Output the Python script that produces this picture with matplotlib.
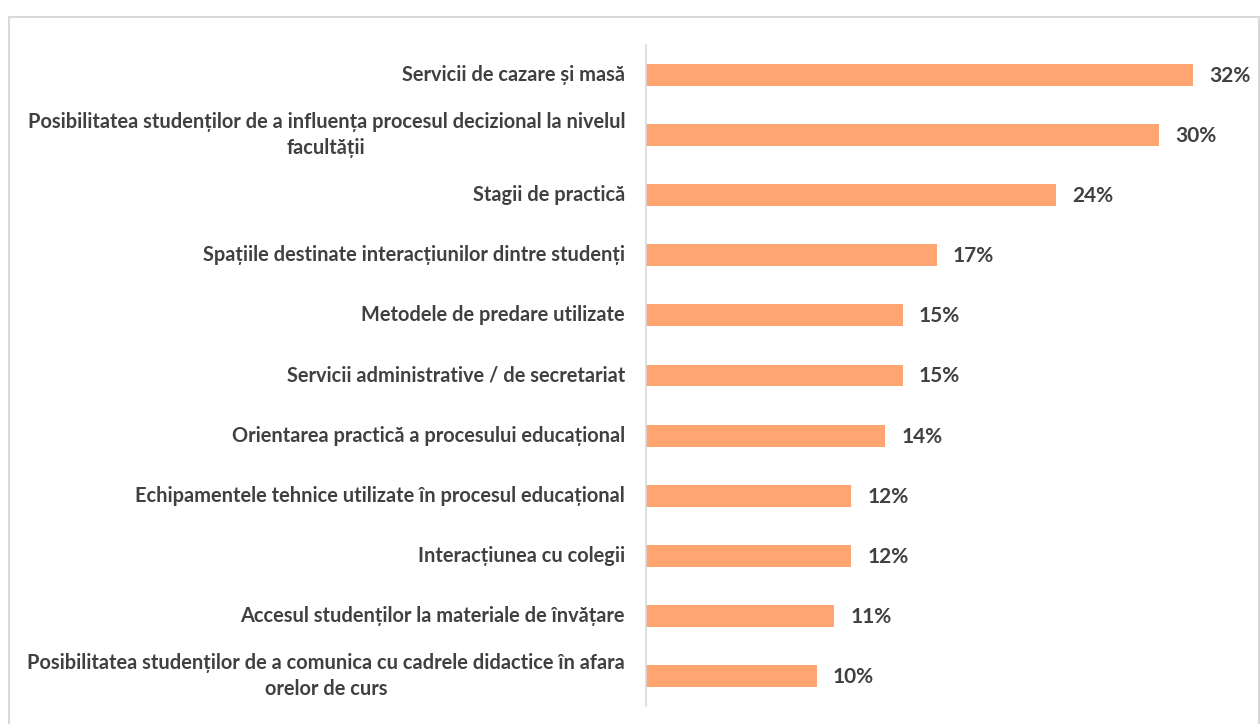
import matplotlib
matplotlib.use("Agg")
import matplotlib.pyplot as plt
from matplotlib.patches import Rectangle

categories = [
    "Servicii de cazare și masă",
    "Posibilitatea studenților de a influența procesul decizional la nivelul\nfacultății",
    "Stagii de practică",
    "Spațiile destinate interacțiunilor dintre studenți",
    "Metodele de predare utilizate",
    "Servicii administrative / de secretariat",
    "Orientarea practică a procesului educațional",
    "Echipamentele tehnice utilizate în procesul educațional",
    "Interacțiunea cu colegii",
    "Accesul studenților la materiale de învățare",
    "Posibilitatea studenților de a comunica cu cadrele didactice în afara\norelor de curs",
]
values = [32, 30, 24, 17, 15, 15, 14, 12, 12, 11, 10]
value_labels = ["32%", "30%", "24%", "17%", "15%", "15%", "14%", "12%", "12%", "11%", "10%"]

plt.rcParams['font.family'] = ['Lato', 'DejaVu Sans']
text_color = '#404040'
bar_color = '#FFA572'

fig = plt.figure(figsize=(12.6, 7.24), dpi=100)
W, H = 1260, 724
ax = fig.add_axes([646 / W, 18 / H, 594 / W, 661 / H])

y = list(range(len(categories)))
ax.barh(y, values, height=0.365, color=bar_color)
ax.set_ylim(len(categories) - 0.5, -0.5)
ax.set_xlim(0, 594 / 17.1)

for yi, v, lab in zip(y, values, value_labels):
    ax.annotate(lab, (v, yi), xytext=(16, -1), textcoords='offset pixels',
                ha='left', va='center', fontsize=15, fontweight='bold', color=text_color)

for yi, cat in zip(y, categories):
    ax.annotate(cat, (0, yi), xytext=(-21, 0), textcoords='offset pixels',
                ha='right', va='center', multialignment='center', fontsize=14.4,
                fontweight='bold', color=text_color, linespacing=1.4)

ax.set_yticks([])
ax.set_xticks([])
for s in ['top', 'right', 'bottom']:
    ax.spines[s].set_visible(False)
ax.spines['left'].set_color('#D9D9D9')
ax.spines['left'].set_linewidth(1.2)

fig.patches.append(Rectangle((8.5 / W, -0.1), (1259 - 8.5) / W, 1.1 - 16.5 / H,
                             transform=fig.transFigure, fill=False,
                             edgecolor='#D9D9D9', linewidth=1.5))

fig.savefig('out.png', dpi=100)
